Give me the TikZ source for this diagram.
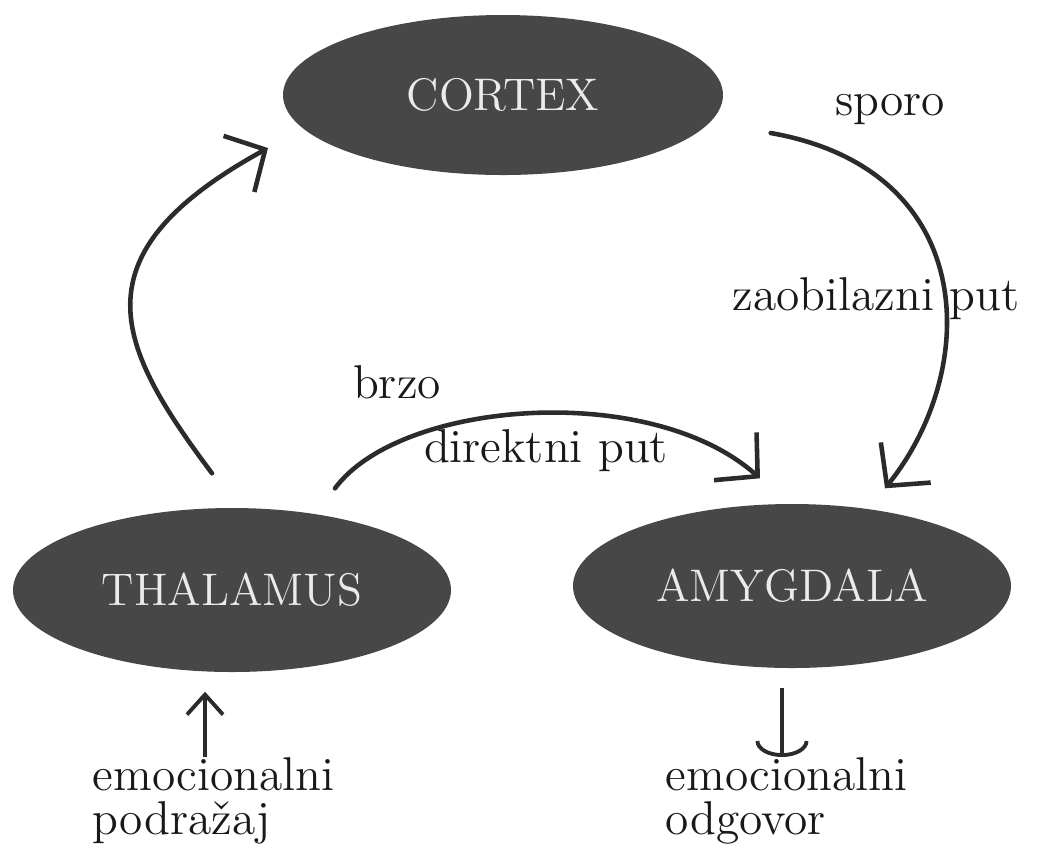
\documentclass[tikz,border=0pt]{standalone}
\usetikzlibrary{shapes.geometric,arrows.meta,positioning}
\definecolor{blobgray}{HTML}{474747}
\definecolor{inkgray}{HTML}{2B2B2B}
\begin{document}
\begin{tikzpicture}[
      region/.style={
        ellipse,
        fill=blobgray,
        inner sep=0pt,
        minimum width=4.38cm,
        minimum height=1.64cm,
        text=white!92!black,
        font=\fontsize{13}{15}\selectfont
      },
      word/.style={
        text=black!90,
        inner sep=0pt,
        font=\fontsize{13.5}{12.6}\selectfont
      },
      route/.style={
        line width=1.3pt,
        draw=inkgray,
        line cap=round,
        -{Straight Barb[length=3mm,width=6.4mm]}
      }
    ]
    \useasboundingbox (0,0) rectangle (10.38,-8.53);

    % Brain regions
    \node[region, minimum width=4.4cm, minimum height=1.6cm] (cortex) at (5.03,-0.95) {CORTEX};
    \node[region] (thalamus) at (2.32,-5.90) {THALAMUS};
    \node[region] (amygdala) at (7.92,-5.86) {AMYGDALA};

    % Path labels
    \node[word, anchor=base] (slow) at (8.90,-1.15) {sporo};
    \node[word, anchor=base] (detour) at (8.76,-3.10) {zaobilazni put};
    \node[word, anchor=base] (fast) at (3.97,-3.98) {brzo};
    \node[word, anchor=base] (direct) at (5.46,-4.62) {direktni put};

    % Input and output
    \node[word, align=left, anchor=north west] (stimulus) at (0.92,-7.57) {emocionalni\\podražaj};
    \node[word, align=left, anchor=north west] (response) at (6.65,-7.57) {emocionalni\\odgovor};

    % Thalamus to cortex
    \draw[route] ([shift={(-0.2,0.34)}]thalamus.north) .. controls +(-0.96,1.28) and +(-1.95,-1.07) .. ([shift={(-2.35,-0.53)}]cortex.center);

    % Slow route through cortex
    \draw[route] ([shift={(0.47,-0.38)}]cortex.east) .. controls +(2.10,-0.37) and +(0.95,1.18) .. ([shift={(0.93,0.15)}]amygdala.north);

    % Fast direct route
    \draw[route] ([shift={(1.03,0.19)}]thalamus.north) .. controls +(0.65,0.88) and +(-1.10,0.98) .. ([shift={(-0.32,0.25)}]amygdala.north);

    % Stimulus in, response out
    \draw[line width=1.1pt, draw=inkgray, -{Straight Barb[length=2mm,width=3.6mm]}] ([xshift=-0.27cm]thalamus.south |- stimulus.north) -- ([shift={(-0.27,-0.19)}]thalamus.south);
    \draw[line width=1.1pt, draw=inkgray, -{Arc Barb[length=1.6mm,width=5.3mm]}] ([shift={(-0.10,-0.19)}]amygdala.south) -- ([xshift=-0.10cm]amygdala.south |- response.north);
    \end{tikzpicture}
\end{document}
